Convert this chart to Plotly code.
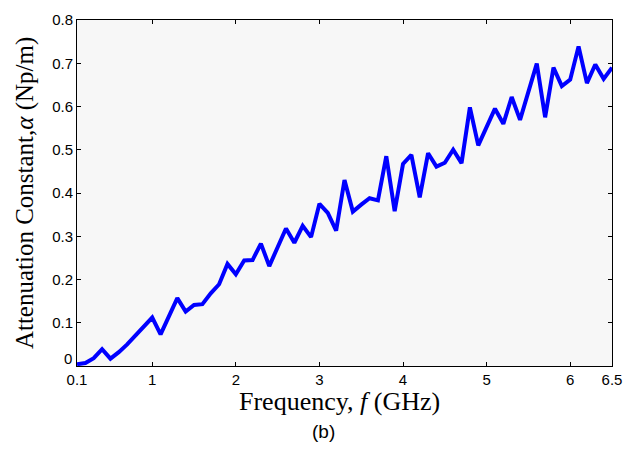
import plotly.graph_objects as go

# Frequency (GHz)
freq = [0.1, 0.2, 0.3, 0.4, 0.5, 0.6, 0.7, 0.8, 0.9, 1.0,
        1.1, 1.2, 1.3, 1.4, 1.5, 1.6, 1.7, 1.8, 1.9, 2.0,
        2.1, 2.2, 2.3, 2.4, 2.5, 2.6, 2.7, 2.8, 2.9, 3.0,
        3.1, 3.2, 3.3, 3.4, 3.5, 3.6, 3.7, 3.8, 3.9, 4.0,
        4.1, 4.2, 4.3, 4.4, 4.5, 4.6, 4.7, 4.8, 4.9, 5.0,
        5.1, 5.2, 5.3, 5.4, 5.5, 5.6, 5.7, 5.8, 5.9, 6.0,
        6.1, 6.2, 6.3, 6.4, 6.5]

# Attenuation constant alpha (Np/m)
alpha = [0.004, 0.007, 0.018, 0.039, 0.017, 0.032, 0.050, 0.070, 0.091, 0.112,
         0.073, 0.115, 0.157, 0.126, 0.141, 0.143, 0.168, 0.189, 0.236, 0.212,
         0.244, 0.245, 0.283, 0.231, 0.272, 0.318, 0.285, 0.324, 0.298, 0.375,
         0.354, 0.313, 0.430, 0.357, 0.373, 0.388, 0.383, 0.485, 0.358, 0.467,
         0.488, 0.390, 0.492, 0.461, 0.470, 0.500, 0.469, 0.598, 0.510, 0.553,
         0.595, 0.560, 0.622, 0.569, 0.635, 0.699, 0.575, 0.690, 0.647, 0.662,
         0.739, 0.654, 0.697, 0.664, 0.690]

x_tickvals = [0.1, 1, 2, 3, 4, 5, 6, 6.5]
x_ticktext = ["0.1", "1", "2", "3", "4", "5", "6", "6.5"]
y_tickvals = [0, 0.1, 0.2, 0.3, 0.4, 0.5, 0.6, 0.7, 0.8]
y_ticktext = ["", "0.1", "0.2", "0.3", "0.4", "0.5", "0.6", "0.7", "0.8"]

fig = go.Figure()
fig.add_trace(go.Scatter(x=freq, y=alpha, mode="lines",
                         line=dict(color="#0000ff", width=4),
                         showlegend=False))

tick_font = dict(family="Liberation Sans, Arial, sans-serif", size=15, color="black")
title_font_x = dict(family="Liberation Serif, Times New Roman, serif", size=26, color="black")
title_font_y = dict(family="Liberation Serif, Times New Roman, serif", size=25, color="black")

fig.update_layout(
    width=637, height=449,
    margin=dict(l=77, r=25, t=11, b=83),
    paper_bgcolor="white",
    plot_bgcolor="#f7f7f7",
    xaxis=dict(range=[0.1, 6.5], tickvals=x_tickvals, ticktext=x_ticktext,
               showgrid=False, zeroline=False, showline=True, linecolor="black",
               linewidth=1, mirror="ticks", ticks="inside", ticklen=4,
               tickcolor="black", tickfont=tick_font),
    yaxis=dict(range=[0, 0.8], tickvals=y_tickvals, ticktext=y_ticktext,
               showgrid=False, zeroline=False, showline=True, linecolor="black",
               linewidth=1, mirror="ticks", ticks="inside", ticklen=4,
               tickcolor="black", tickfont=tick_font),
    annotations=[
        dict(text="0", xref="paper", yref="y", x=0, y=0,
             xanchor="right", yanchor="middle", xshift=-3, yshift=8,
             showarrow=False, font=tick_font),
        dict(text="Frequency, <i>f</i> (GHz)", xref="paper", yref="paper",
             x=0.49, y=-0.104, xanchor="center", yanchor="middle",
             showarrow=False, font=title_font_x),
        dict(text="Attenuation Constant,<i>α</i> (Np/m)", xref="paper", yref="paper",
             x=-0.097, y=0.5, xanchor="center", yanchor="middle", textangle=-90,
             showarrow=False, font=title_font_y),
        dict(text="(b)", xref="paper", yref="paper",
             x=0.46, y=-0.19, xanchor="center", yanchor="middle",
             showarrow=False,
             font=dict(family="Liberation Sans, Arial, sans-serif", size=19, color="black")),
    ],
)

fig.write_html("out.html")
